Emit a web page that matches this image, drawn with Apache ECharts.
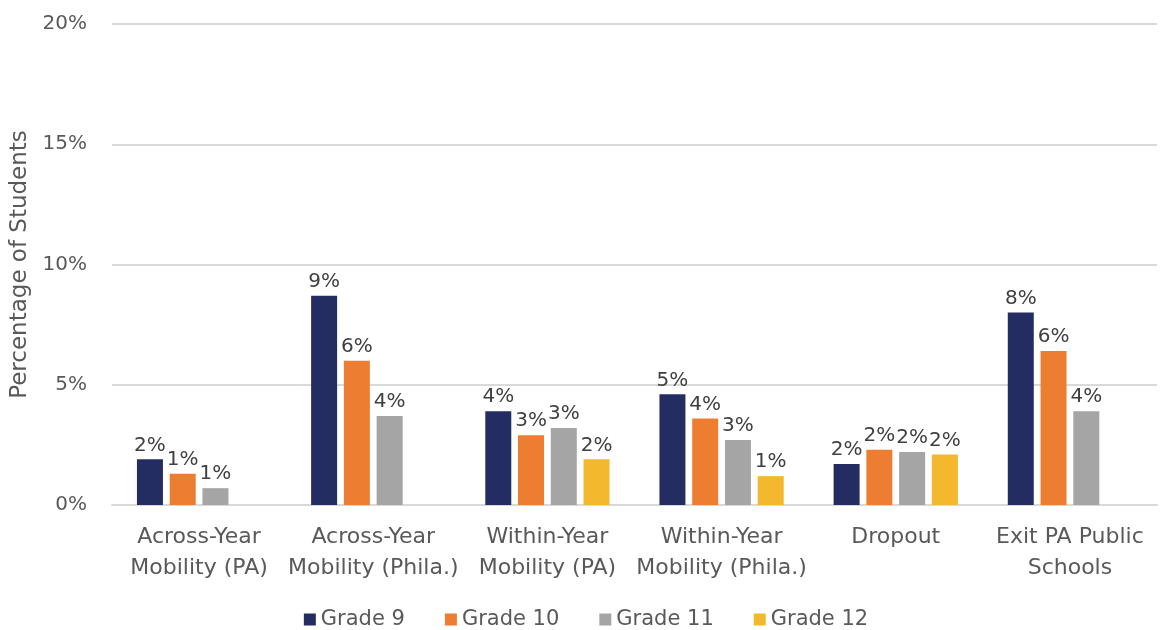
<!DOCTYPE html>
<html>
<head>
<meta charset="utf-8">
<script src="https://cdn.jsdelivr.net/npm/echarts@6/dist/echarts.min.js"></script>
<style>
  html, body { margin: 0; padding: 0; background: #fff; }
  #chart { width: 1172px; height: 630px; }
</style>
</head>
<body>
<div id="chart"></div>
<script>
// categories and values (percent)
var categories = ['Across-Year\nMobility (PA)', 'Across-Year\nMobility (Phila.)', 'Within-Year\nMobility (PA)', 'Within-Year\nMobility (Phila.)', 'Dropout', 'Exit PA Public\nSchools'];
var grade9 = [1.9, 8.7, 3.9, 4.6, 1.7, 8.0];
var grade10 = [1.3, 6.0, 2.9, 3.6, 2.3, 6.4];
var grade11 = [0.7, 3.7, 3.2, 2.7, 2.2, 3.9];
var grade12 = [null, null, 1.9, 1.2, 2.1, null];
var seriesNames = ['Grade 9', 'Grade 10', 'Grade 11', 'Grade 12'];
var colors = ['#242D62', '#ED7D31', '#A5A5A5', '#F3B82D'];

var font = 'Century Gothic, "DejaVu Sans", sans-serif';
var chart = echarts.init(document.getElementById('chart'));

function makeSeries(name, data) {
    return {
        name: name,
        type: 'bar',
        data: data,
        barWidth: 26,
        barGap: '26%',
        label: {
            show: true,
            position: 'top',
            distance: 4,
            color: '#404040',
            fontSize: 20,
            fontFamily: font,
            formatter: function (p) { return Math.round(p.value) + '%'; }
        }
    };
}

var option = {
    color: colors,
    textStyle: { fontFamily: font },
    grid: { left: 112, right: 15, top: 24, bottom: 125 },
    legend: {
        top: 604,
        left: 'center',
        itemWidth: 12,
        itemHeight: 12,
        itemGap: 40,
        icon: 'rect',
        textStyle: { color: '#595959', fontSize: 21, fontFamily: font }
    },
    xAxis: {
        type: 'category',
        data: categories,
        axisTick: { show: false },
        axisLine: { lineStyle: { color: '#D9D9D9', width: 2 } },
        axisLabel: { color: '#595959', fontSize: 22, lineHeight: 31, margin: 17, fontFamily: font, interval: 0 }
    },
    yAxis: {
        type: 'value',
        min: 0,
        max: 20,
        interval: 5,
        name: 'Percentage of Students',
        nameLocation: 'middle',
        nameGap: 77,
        nameTextStyle: { color: '#595959', fontSize: 23, fontFamily: font },
        axisLabel: { color: '#595959', fontSize: 20, margin: 25, fontFamily: font, formatter: '{value}%' },
        splitLine: { lineStyle: { color: '#D9D9D9', width: 2 } }
    },
    series: [
        makeSeries(seriesNames[0], grade9),
        makeSeries(seriesNames[1], grade10),
        makeSeries(seriesNames[2], grade11),
        makeSeries(seriesNames[3], grade12)
    ]
};
chart.setOption(option);
</script>
</body>
</html>
